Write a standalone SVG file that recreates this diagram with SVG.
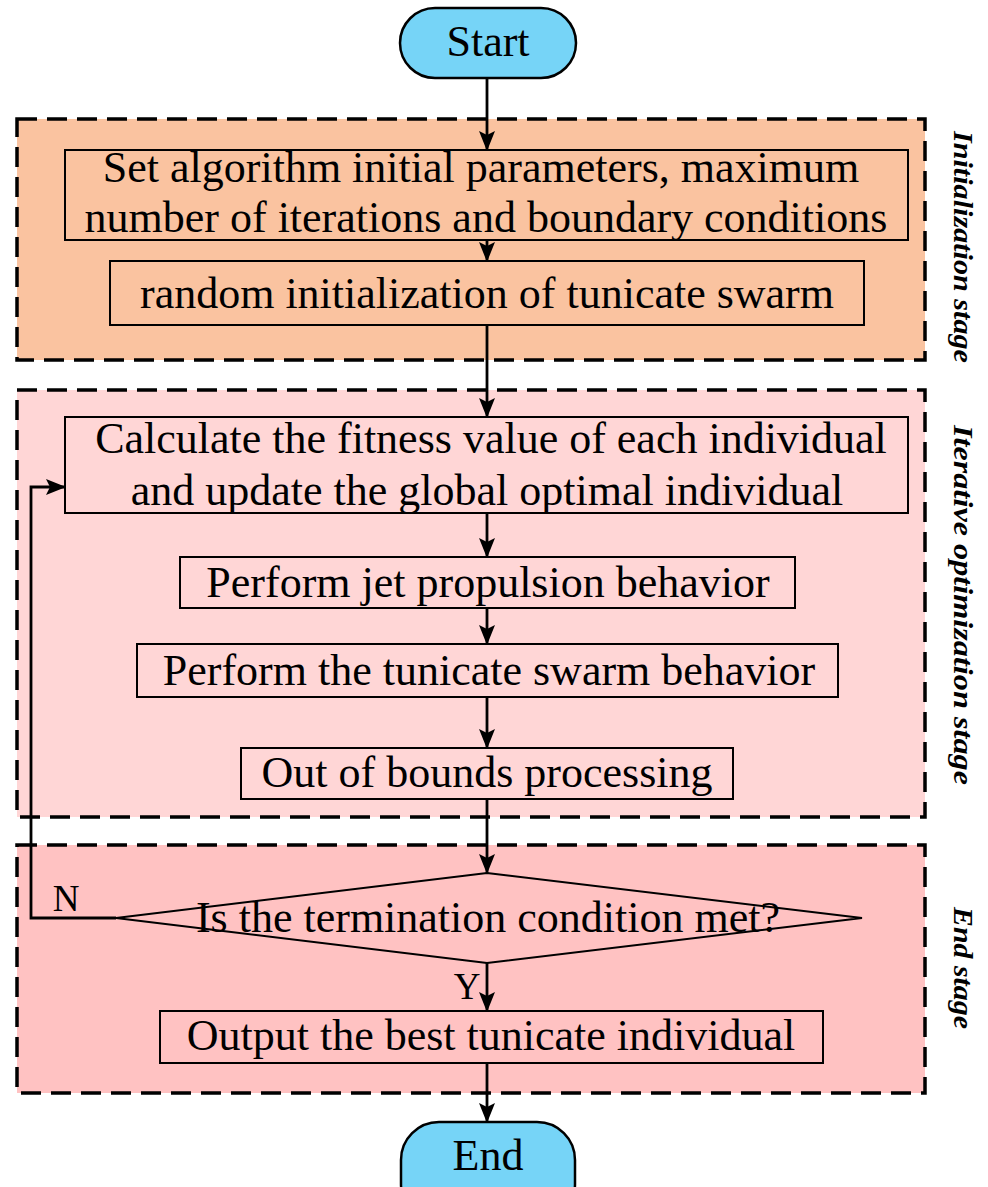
<svg xmlns="http://www.w3.org/2000/svg" width="988" height="1187" viewBox="0 0 988 1187">
<style>
.stage{stroke:#000;stroke-width:3.5;stroke-dasharray:20 10}
.box{fill:none;stroke:#000;stroke-width:2}
.term{fill:#76D4F7;stroke:#000;stroke-width:2.5}
.t{font-family:"Liberation Serif","Times New Roman",serif;font-size:44px;fill:#000;text-anchor:middle}
.yn{font-family:"Liberation Serif","Times New Roman",serif;font-size:37px;fill:#000;text-anchor:middle}
.lbl{font-family:"Liberation Serif","Times New Roman",serif;font-size:28px;font-weight:bold;font-style:italic;fill:#000;text-anchor:middle}
.c{fill:none;stroke:#000;stroke-width:2.8}
</style>
<defs>
<marker id="ah" markerWidth="20" markerHeight="16" refX="19" refY="8" orient="auto" markerUnits="userSpaceOnUse" viewBox="0 0 20 16">
<path d="M0,0 L20,8 L0,16 L4,8 Z" fill="#000"/>
</marker>
</defs>
<rect width="988" height="1187" fill="#fff"/>
<g id="stage-init">
<rect class="stage" x="17" y="119" width="908" height="241" fill="#FAC3A0"/>
<text class="lbl" transform="translate(954,247) rotate(90)" textLength="232" lengthAdjust="spacingAndGlyphs">Initialization stage</text>
</g>
<g id="stage-iter">
<rect class="stage" x="17" y="390" width="908" height="427" fill="#FFD6D6"/>
<text class="lbl" transform="translate(954,605) rotate(90)" textLength="360" lengthAdjust="spacingAndGlyphs">Iterative optimization stage</text>
</g>
<g id="stage-end">
<rect class="stage" x="17" y="845" width="908" height="248" fill="#FFC2C2"/>
<text class="lbl" transform="translate(954,968) rotate(90)" textLength="122" lengthAdjust="spacingAndGlyphs">End stage</text>
</g>
<g id="start">
<rect class="term" x="400" y="8" width="176" height="70" rx="35" ry="35"/>
<text class="t" x="488" y="56">Start</text>
</g>
<g id="set-params">
<rect class="box" x="65" y="150" width="843" height="90"/>
<text class="t" x="481" y="182">Set algorithm initial parameters, maximum</text>
<text class="t" x="486" y="232">number of iterations and boundary conditions</text>
</g>
<g id="random-init">
<rect class="box" x="110" y="261" width="754" height="64"/>
<text class="t" x="487" y="308">random initialization of tunicate swarm</text>
</g>
<g id="fitness">
<rect class="box" x="65" y="417" width="843" height="96"/>
<text class="t" x="491" y="453">Calculate the fitness value of each individual</text>
<text class="t" x="487" y="505">and update the global optimal individual</text>
</g>
<g id="jet">
<rect class="box" x="180" y="557" width="615" height="51"/>
<text class="t" x="488" y="597">Perform jet propulsion behavior</text>
</g>
<g id="swarm">
<rect class="box" x="137" y="644" width="701" height="53"/>
<text class="t" x="489" y="685">Perform the tunicate swarm behavior</text>
</g>
<g id="bounds">
<rect class="box" x="241" y="748" width="492" height="51"/>
<text class="t" x="487" y="787">Out of bounds processing</text>
</g>
<g id="decision">
<polygon class="box" points="487,873 862,918 487,963 116,918"/>
<text class="t" x="488" y="932">Is the termination condition met?</text>
</g>
<g id="output">
<rect class="box" x="160" y="1011" width="663" height="52"/>
<text class="t" x="491" y="1050">Output the best tunicate individual</text>
</g>
<g id="end">
<rect class="term" x="401" y="1122" width="174" height="100" rx="38" ry="38"/>
<text class="t" x="488" y="1170">End</text>
</g>
<g id="connectors">
<line class="c" x1="487" y1="78" x2="487" y2="150" marker-end="url(#ah)"/>
<line class="c" x1="487" y1="240" x2="487" y2="261" marker-end="url(#ah)"/>
<line class="c" x1="487" y1="325" x2="487" y2="417" marker-end="url(#ah)"/>
<line class="c" x1="487" y1="513" x2="487" y2="557" marker-end="url(#ah)"/>
<line class="c" x1="487" y1="608" x2="487" y2="644" marker-end="url(#ah)"/>
<line class="c" x1="487" y1="697" x2="487" y2="748" marker-end="url(#ah)"/>
<line class="c" x1="487" y1="799" x2="487" y2="873" marker-end="url(#ah)"/>
<line class="c" x1="487" y1="963" x2="487" y2="1011" marker-end="url(#ah)"/>
<line class="c" x1="487" y1="1063" x2="487" y2="1122" marker-end="url(#ah)"/>
<polyline class="c" points="116,918 31,918 31,487 65,487" marker-end="url(#ah)"/>
<text class="yn" x="66" y="911">N</text>
<text class="yn" x="467" y="999">Y</text>
</g>
</svg>
